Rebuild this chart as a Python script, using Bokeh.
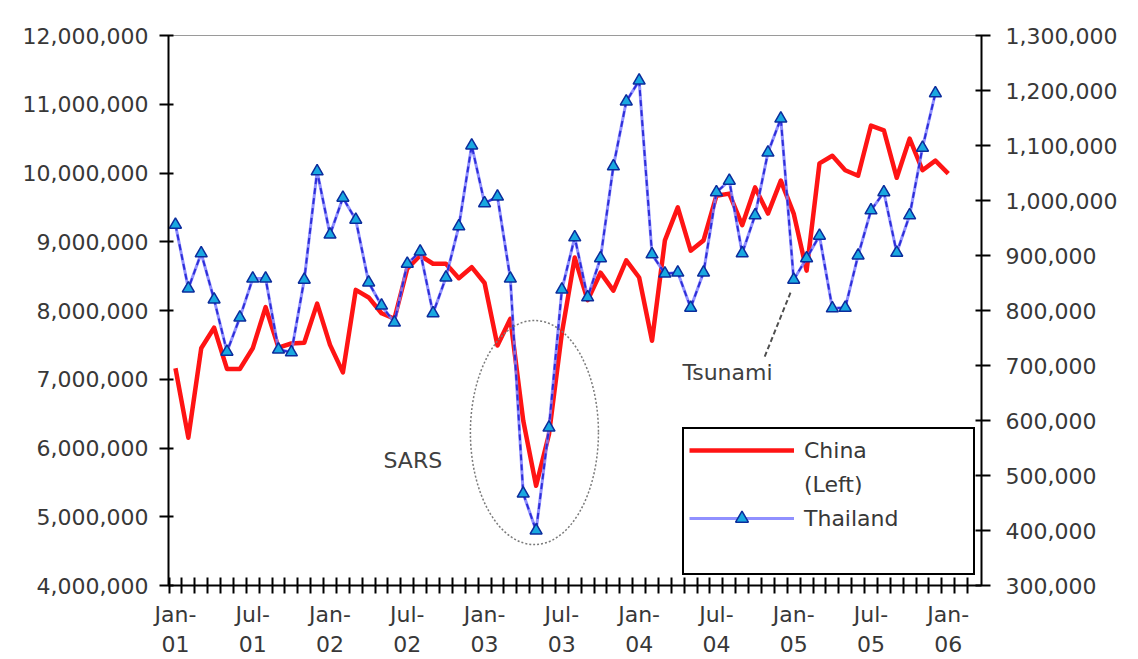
from bokeh.plotting import figure
from bokeh.models import (Range1d, LinearAxis, FixedTicker, NumeralTickFormatter,
                          Legend, LegendItem, Label)
from bokeh.embed import file_html
from bokeh.resources import INLINE

# ---------------- data ----------------
# China monthly arrivals, Jan-01 .. Jan-06 (left axis)
china = [7.16e6, 6.15e6, 7.45e6, 7.75e6, 7.15e6, 7.15e6, 7.45e6, 8.05e6, 7.46e6, 7.52e6,
         7.53e6, 8.10e6, 7.50e6, 7.10e6, 8.30e6, 8.19e6, 7.96e6, 7.88e6, 8.61e6, 8.80e6,
         8.68e6, 8.68e6, 8.47e6, 8.63e6, 8.40e6, 7.49e6, 7.88e6, 6.40e6, 5.45e6, 6.20e6,
         7.67e6, 8.77e6, 8.15e6, 8.55e6, 8.29e6, 8.73e6, 8.48e6, 7.56e6, 9.02e6, 9.50e6,
         8.87e6, 9.02e6, 9.67e6, 9.70e6, 9.24e6, 9.79e6, 9.41e6, 9.89e6, 9.41e6, 8.58e6,
         10.14e6, 10.25e6, 10.04e6, 9.96e6, 10.69e6, 10.62e6, 9.93e6, 10.50e6, 10.04e6,
         10.18e6, 9.99e6]

# Thailand monthly arrivals, Jan-01 .. Dec-05 (right axis)
thailand = [956e3, 840e3, 904e3, 820e3, 725e3, 787e3, 858e3, 858e3, 729e3, 724e3,
            856e3, 1053e3, 938e3, 1005e3, 965e3, 851e3, 809e3, 778e3, 885e3, 907e3,
            795e3, 860e3, 953e3, 1100e3, 995e3, 1007e3, 858e3, 467e3, 400e3, 587e3,
            838e3, 933e3, 824e3, 895e3, 1062e3, 1180e3, 1218e3, 902e3, 867e3, 869e3,
            805e3, 869e3, 1015e3, 1036e3, 904e3, 973e3, 1087e3, 1149e3, 856e3, 895e3,
            936e3, 804e3, 805e3, 900e3, 982e3, 1015e3, 905e3, 973e3, 1096e3, 1195e3]

x_tick_labels = ["Jan-\n01", "Jul-\n01", "Jan-\n02", "Jul-\n02", "Jan-\n03", "Jul-\n03",
                 "Jan-\n04", "Jul-\n04", "Jan-\n05", "Jul-\n05", "Jan-\n06"]
left_ticks = [4e6, 5e6, 6e6, 7e6, 8e6, 9e6, 10e6, 11e6, 12e6]
right_ticks = [300e3, 400e3, 500e3, 600e3, 700e3, 800e3, 900e3, 1000e3, 1100e3, 1200e3, 1300e3]

x_china = list(range(len(china)))
x_thai = list(range(len(thailand)))
label_pos = [6 * k for k in range(len(x_tick_labels))]

FONT = "DejaVu Sans"
TXT = "#383838"

p = figure(width=1138, height=659, output_backend="svg", toolbar_location=None,
           x_range=Range1d(-0.54, 62.58), y_range=Range1d(4e6, 12e6),
           min_border_left=168, min_border_right=157, min_border_top=35, min_border_bottom=74,
           x_axis_location=None, y_axis_location=None)
p.extra_y_ranges = {"thai": Range1d(300e3, 1300e3)}
p.grid.visible = False
p.outline_line_color = "#9a9a9a"
p.outline_line_width = 1
p.background_fill_color = "white"
p.border_fill_color = "white"

# bottom axis
xaxis = LinearAxis(ticker=FixedTicker(ticks=label_pos,
                                      minor_ticks=[i + 0.5 for i in range(-1, 62)]))
xaxis.major_label_overrides = {pos: lab for pos, lab in zip(label_pos, x_tick_labels)}
xaxis.major_tick_line_color = None
xaxis.major_tick_out = 0
xaxis.major_tick_in = 0
xaxis.minor_tick_in = 8
xaxis.minor_tick_out = 8
xaxis.minor_tick_line_color = "black"
xaxis.minor_tick_line_width = 2
xaxis.axis_line_color = "black"
xaxis.axis_line_width = 2
xaxis.major_label_standoff = 8
xaxis.major_label_text_font = FONT
xaxis.major_label_text_font_size = "22px"
xaxis.major_label_text_color = TXT
p.add_layout(xaxis, "below")

# left axis (China)
yl = LinearAxis(ticker=FixedTicker(ticks=left_ticks), formatter=NumeralTickFormatter(format="0,0"))
yl.major_tick_in = 5
yl.major_tick_out = 9
yl.major_tick_line_width = 2
yl.minor_tick_line_color = None
yl.axis_line_width = 2
yl.major_label_standoff = 11
yl.major_label_text_font = FONT
yl.major_label_text_font_size = "22px"
yl.major_label_text_color = TXT
p.add_layout(yl, "left")

# right axis (Thailand)
yr = LinearAxis(y_range_name="thai", ticker=FixedTicker(ticks=right_ticks),
                formatter=NumeralTickFormatter(format="0,0"))
yr.major_tick_in = 6
yr.major_tick_out = 9
yr.major_tick_line_width = 2
yr.minor_tick_line_color = None
yr.axis_line_width = 2
yr.major_label_standoff = 15
yr.major_label_text_font = FONT
yr.major_label_text_font_size = "22px"
yr.major_label_text_color = TXT
p.add_layout(yr, "right")

# series
r_china = p.line(x_china, china, line_color="#ff1414", line_width=4.5, line_join="round")
r_thai = p.line(x_thai, thailand, y_range_name="thai", line_color="#7d7dff",
                line_width=3, line_alpha=0.85, line_join="round")
p.line(x_thai, thailand, y_range_name="thai", line_color="#2424d4",
       line_width=2, line_dash="6 4", line_alpha=0.9)
r_pts = p.scatter(x_thai, thailand, y_range_name="thai", marker="triangle", size=12,
                  fill_color="#19a8e0", line_color="#0b2c9c", line_width=1.5)
r_blank = p.line(x=[], y=[], line_alpha=0)

# annotations
p.ellipse(x=[27.87], y=[6.225e6], width=9.94, height=3.26e6, fill_color=None,
          line_color="#7a7a7a", line_dash="2 2", line_width=1.5)
p.add_layout(Label(x=16.15, y=5.82e6, text="SARS", text_baseline="middle",
                   text_font=FONT, text_font_size="22px", text_color="#404040"))
p.segment(x0=[47.75], y0=[8.26e6], x1=[45.73], y1=[7.32e6], line_color="#505050",
          line_width=2, line_dash="5 3")
p.add_layout(Label(x=39.36, y=7.1e6, text="Tsunami", text_baseline="middle",
                   text_font=FONT, text_font_size="22px", text_color="#404040"))

legend = Legend(items=[LegendItem(label="China", renderers=[r_china]),
                       LegendItem(label="(Left)", renderers=[r_blank]),
                       LegendItem(label="Thailand", renderers=[r_thai, r_pts]),
                       LegendItem(label=" ", renderers=[r_blank])],
                location=(514, 10), padding=5, spacing=2, glyph_width=105, glyph_height=32,
                label_height=32, label_width=164, label_standoff=10,
                label_text_font=FONT, label_text_font_size="22px", label_text_color=TXT,
                border_line_color="black", border_line_width=2, border_line_alpha=1.0,
                background_fill_color="white", background_fill_alpha=1.0)
p.add_layout(legend)

open("out.html", "w").write(file_html(p, INLINE))
